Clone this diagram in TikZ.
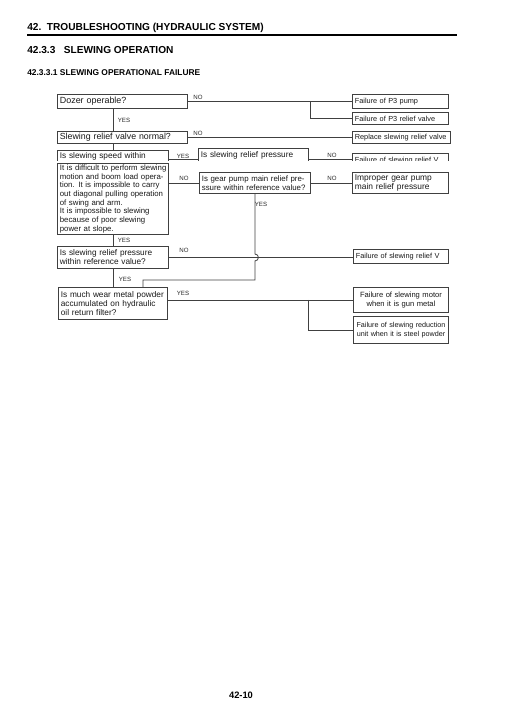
\documentclass[tikz,border=0pt]{standalone}
\usepackage{fontspec}
\setmainfont{Liberation Sans}
\usetikzlibrary{positioning,calc}

\begin{document}
\begin{tikzpicture}[x=0.75pt,y=-0.75pt,
  box/.style={draw=black!75,line width=.7pt,fill=white,text=black!90,anchor=north west,inner xsep=1.8pt,inner ysep=.8pt,text width=#1,execute at begin node={\parindent=0pt\rightskip=0pt plus 1fil minus 6pt\relax},font=\fontsize{6.2}{6.7}\selectfont},
  rbox/.style={box=#1,font=\fontsize{5.5}{6.3}\selectfont},
  cbox/.style={rbox=#1,execute at begin node={\parindent=0pt\leftskip=0pt plus 1fil\rightskip=0pt plus 1fil\parfillskip=0pt\relax}},
  lbl/.style={inner sep=0pt,text=black!85,font=\fontsize{4.6}{5}\selectfont},
  link/.style={draw=black!75,line width=.6pt}]
\useasboundingbox (0,0) rectangle (504,713);

\node[anchor=west,inner sep=0pt,font=\bfseries\fontsize{7.6}{9}\selectfont] (title) at (27,27.5) {42.\ \ TROUBLESHOOTING (HYDRAULIC SYSTEM)};
\draw[line width=1.5pt] (27,35) -- (457,35);
\node[anchor=west,inner sep=0pt,font=\bfseries\fontsize{7.6}{9}\selectfont] (sec) at (27,50) {42.3.3\ \ \ SLEWING OPERATION};
\node[anchor=west,inner sep=0pt,font=\bfseries\fontsize{6.3}{8}\selectfont] (subsec) at (27,72.7) {42.3.3.1 SLEWING OPERATIONAL FAILURE};

\coordinate (trunk) at (113,0);
\coordinate (row) at (0,159.5);
\coordinate (fork1) at (310,0);
\coordinate (fork2) at (308,0);
\coordinate (low) at (0,280);
\coordinate (drop) at (143,0);

\node[box=93.9pt,minimum height=10.5pt,font=\fontsize{6.7}{7}\selectfont] (dozer) at (57,94) {Dozer operable?};
\node[rbox=68.4pt,minimum height=10.5pt] (pump) at (352,94) {Failure of P3 pump};
\node[rbox=68.4pt,minimum height=9pt] (pvalve) at (352,112) {Failure of P3 relief valve};
\node[box=93.9pt,minimum height=9pt,font=\fontsize{6.6}{7}\selectfont] (valve) at (57,131) {Slewing relief valve normal?};
\node[rbox=69.9pt,minimum height=9pt] (replace) at (352,131) {Replace slewing relief valve};

\begin{scope}
\clip (0,140) rectangle (504,160.3);
\node[box=79.65pt,inner ysep=1.2pt,text depth=8pt] (speed) at (57,150) {Is slewing speed within};
\node[box=78.9pt,inner ysep=2pt,text depth=10pt] (press) at (198,148) {Is slewing relief pressure};
\node[rbox=68.4pt,minimum height=10.5pt] (failv) at (352,153) {Failure of slewing relief V};
\draw[link] (speed.east |- row) -- (press.west |- row);
\draw[link] (press.east |- row) -- (failv.west |- row);
\end{scope}

\node[box=79.65pt,minimum height=53.25pt,font=\fontsize{5.85}{6.5}\selectfont] (hard) at (57,163) {It is difficult to perform slewing\\motion and boom load opera-\\tion. It is impossible to carry\\out diagonal pulling operation\\of swing and arm.\\It is impossible to slewing\\because of poor slewing\\power at slope.};
\node[box=79.65pt,minimum height=15.75pt,font=\fontsize{5.9}{6.8}\selectfont] (gear) at (199,172) {Is gear pump main relief pre-\\ssure within reference value?};
\node[box=68.4pt,minimum height=15.75pt,font=\fontsize{6.3}{6.8}\selectfont] (improper) at (352,172) {Improper gear pump\\main relief pressure};
\node[box=79.65pt,minimum height=16.5pt] (press2) at (57,246) {Is slewing relief pressure\\within reference value?};
\node[rbox=67.65pt,minimum height=10.5pt] (failv2) at (353,249) {Failure of slewing relief V};
\node[box=78.15pt,minimum height=24pt] (wear) at (58,287) {Is much wear metal powder\\accumulated on hydraulic\\oil return filter?};
\node[cbox=67.65pt,minimum height=18.75pt,font=\fontsize{5.7}{6.8}\selectfont] (motor) at (353,287) {Failure of slewing motor\\when it is gun metal};
\node[cbox=67.65pt,minimum height=20.25pt,font=\fontsize{5.4}{6.6}\selectfont] (reduct) at (353,316) {Failure of slewing reduction\\unit when it is steel powder};

\draw[link] (dozer) -- (pump);
\draw[link] (fork1 |- pump.west) |- (pvalve.west);
\draw[link] (dozer.south -| trunk) -- (valve.north -| trunk);
\draw[link] (valve) -- (replace);
\draw[link] (valve.south -| trunk) -- (speed.north -| trunk);
\draw[link] (hard.east |- gear.west) -- (gear.west);
\draw[link] (gear) -- (improper);
\draw[link] (hard.south -| trunk) -- (press2.north -| trunk);
\draw[link] (press2.east) -- (press2.east -| failv2.west);
\coordinate (hop) at (gear.south |- press2.east);
\draw[link] (gear.south) -- ([yshift=2.6pt]hop) arc[start angle=90,end angle=-90,radius=2.6pt] -- (gear.south |- low) -| (wear.north -| drop);
\draw[link] (press2.south -| trunk) -- (wear.north -| trunk);
\draw[link] (wear.east |- motor.west) -- (motor.west);
\draw[link] (fork2 |- motor.west) |- (reduct.west);

\node[lbl] (no1) at (198,97) {NO};
\node[lbl] (yes1) at (124,120) {YES};
\node[lbl] (no2) at (198,133) {NO};
\node[lbl] (yes2) at (183,156) {YES};
\node[lbl] (no3) at (332,155) {NO};
\node[lbl] (no4) at (184,178) {NO};
\node[lbl] (no5) at (332,178) {NO};
\node[lbl] (yes3) at (261,204) {YES};
\node[lbl] (yes4) at (124,240) {YES};
\node[lbl] (no6) at (184,250) {NO};
\node[lbl] (yes5) at (125,279) {YES};
\node[lbl] (yes6) at (183,293) {YES};

\node[inner sep=0pt,font=\bfseries\fontsize{7}{8}\selectfont] (page) at (241,695) {42-10};
\end{tikzpicture}
\end{document}
